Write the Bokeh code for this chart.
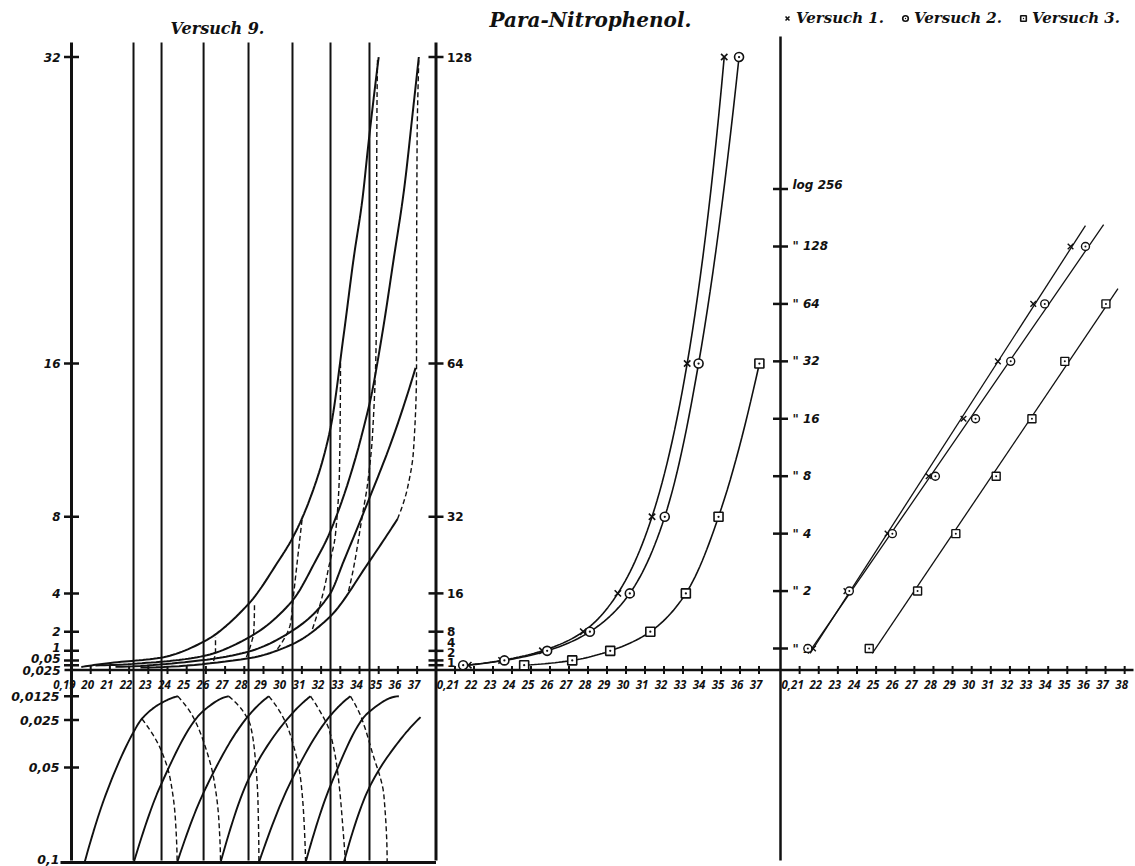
import math
from bokeh.plotting import figure
from bokeh.models import Range1d, LogScale, Legend, LegendItem, Label
from bokeh.core.properties import value
from bokeh.embed import file_html
from bokeh.resources import INLINE

# ======================= DATA =======================
# --- Versuch 9, upper panel (linear scale) : four solid growth curves
c1_x = [19.51, 21.03, 23.64, 25.89, 28.23, 29.78, 30.51, 31.45, 32.49, 33.18, 33.70, 34.14, 34.48, 35.0]
c1_y = [0.16, 0.37, 0.64, 1.48, 3.46, 5.69, 6.89, 9.02, 12.63, 17.52, 21.52, 24.48, 27.61, 32.0]
c2_x = [20.25, 23.64, 25.875, 28.22, 30.49, 31.71, 32.49, 34.52, 35.18, 35.79, 36.31, 36.80, 37.09]
c2_y = [0.24, 0.43, 0.73, 1.69, 3.60, 5.69, 7.26, 13.89, 17.52, 21.52, 25.0, 29.35, 32.0]
c3_x = [21.29, 25.875, 28.22, 30.49, 32.45, 33.18, 34.52, 35.77, 36.92]
c3_y = [0.17, 0.52, 0.96, 2.04, 3.95, 5.69, 8.98, 12.22, 15.77]
c4_x = [22.59, 28.22, 30.49, 32.45, 34.48, 35.98]
c4_y = [0.13, 0.61, 1.34, 2.77, 5.62, 7.88]
# dashed connecting lines of the upper panel
e1_x = [26.5, 26.5, 26.4];                         e1_y = [1.72, 0.99, 0.47]
e2_x = [28.53, 28.49, 28.41, 28.11];               e2_y = [3.45, 1.93, 1.57, 0.68]
e3_x = [31.03, 30.56, 30.41, 29.73];               e3_y = [8.04, 3.86, 2.45, 1.10]
e4_x = [33.01, 32.96, 32.75, 32.39, 32.13, 31.55]; e4_y = [16.13, 10.55, 7.10, 5.33, 4.12, 2.14]
e5_x = [34.94, 34.91, 34.89, 34.87, 34.68, 34.42, 34.16, 33.69, 33.43]
e5_y = [31.95, 29.34, 24.12, 17.54, 12.32, 9.71, 8.14, 5.32, 4.12]
e6_x = [37.09, 37.0, 36.97, 36.97, 36.81, 36.5, 35.98]
e6_y = [31.95, 27.6, 17.54, 15.77, 11.43, 9.5, 7.88]
# vertical lines of Versuch 9
lu_verticals = [22.23, 23.69, 25.88, 28.22, 30.51, 32.49, 34.52]

# --- Versuch 9, lower panel (0,0125 .. 0,1, downward)
a1_x = [19.68, 20.77, 22.245, 22.68, 23.635, 24.54]; a1_y = [0.1, 0.0647, 0.0311, 0.0242, 0.0163, 0.0125]
a2_x = [22.24, 23.64, 25.89, 27.19];  a2_y = [0.1, 0.0595, 0.02, 0.0125]
a3_x = [24.5, 25.89, 28.23, 29.28];   a3_y = [0.1, 0.063, 0.0226, 0.0125]
a4_x = [26.76, 28.23, 30.49, 31.45];  a4_y = [0.1, 0.056, 0.0216, 0.0125]
a5_x = [28.76, 30.41, 32.49, 33.53];  a5_y = [0.1, 0.0577, 0.0226, 0.0125]
a6_x = [31.19, 32.49, 34.48, 36.05];  a6_y = [0.1, 0.0595, 0.0209, 0.0125]
a7_x = [33.18, 34.48, 35.96, 37.18];  a7_y = [0.1, 0.0612, 0.0375, 0.0235]
da_x = [22.67, 23.71, 24.14, 24.41, 24.5];          da_y = [0.0244, 0.0419, 0.0559, 0.077, 0.1]
db_x = [24.54, 25.29, 25.89, 26.41, 26.67, 26.76];  db_y = [0.0125, 0.0226, 0.0367, 0.0559, 0.077, 0.1]
dc_x = [27.19, 27.97, 28.32, 28.58, 28.71, 28.76];  dc_y = [0.0125, 0.0209, 0.0279, 0.0463, 0.0674, 0.1]
dd_x = [29.28, 30.06, 30.41, 30.93, 31.11, 31.19];  dd_y = [0.0125, 0.0244, 0.0332, 0.0558, 0.078, 0.1]
de_x = [31.45, 31.97, 32.4, 32.84, 33.18, 33.27];   de_y = [0.0125, 0.0209, 0.0296, 0.0507, 0.0875, 0.1]
df_x = [33.53, 34.05, 34.66, 35.27, 35.44];         df_y = [0.0125, 0.0226, 0.0419, 0.0647, 0.1]

# --- Para-Nitrophenol
conc_12 = [1, 2, 4, 8, 16, 32, 64, 128]
conc_3 = [1, 2, 4, 8, 16, 32, 64]
v1_x = [21.7, 23.45, 25.6, 27.75, 29.57, 31.37, 33.22, 35.17]
v2_x = [21.43, 23.6, 25.85, 28.1, 30.2, 32.04, 33.82, 35.95]
v3_x = [24.64, 27.17, 29.17, 31.28, 33.15, 34.87, 37.02]
series_names = ["Versuch 1.", "Versuch 2.", "Versuch 3."]
r_line_from = [21.55, 21.45, 24.8]
r_line_to = [35.95, 36.9, 37.65]

# --- ticks and tick labels
lu_yticks = [32, 16, 8, 4, 2, 1, 0.5, 0.25]
lu_ylabels = ["32", "16", "8", "4", "2", "1", "0,05", "0,025"]
ll_yticks = [0.0125, 0.025, 0.05, 0.1]
ll_ylabels = ["0,0125", "0,025", "0,05", "0,1"]
m_yticks = [128, 64, 32, 16, 8, 4, 2, 1]
m_ylabels = ["128", "64", "32", "16", "8", "4", "2", "1"]
r_yticks = [256, 128, 64, 32, 16, 8, 4, 2, 1]
r_ylabels = ["log 256", '" 128', '" 64', '" 32', '" 16', '" 8', '" 4', '" 2', '" 1']
lu_xticks = list(range(19, 38))
lu_xlabels = ["0,19"] + [str(v) for v in range(20, 38)]
m_xticks = list(range(21, 38))
m_xlabels = ["0,21"] + [str(v) for v in range(22, 38)]
r_xticks = list(range(21, 39))
r_xlabels = ["0,21"] + [str(v) for v in range(22, 39)]

# ======================= LAYOUT =======================
W, H = 1135, 866
# scale definitions: (value, pixel, pixels per unit)
LU_X = (19, 71.0, 19.2)
M_X = (20, 435.5, 19.0)
R_X = (20, 780.0, 19.12)
LU_Y = (0, 669.5, -19.156)
LL_Y = (0, 672.0, 1900.0)
M_Y = (0, 669.5, -4.789)
R_Y2 = (0, 648.0, -57.43)   # in log2 units


def at(s, px):
    v0, p0, k = s
    return v0 + (px - p0) / k


def rng(s, a, b):
    return Range1d(start=at(s, a), end=at(s, b))


def pchip(xs, ys, n=14):
    """monotone cubic interpolation of y(x), xs increasing"""
    m = len(xs)
    h = [xs[i + 1] - xs[i] for i in range(m - 1)]
    d = [(ys[i + 1] - ys[i]) / h[i] for i in range(m - 1)]
    if m == 2:
        s = [d[0], d[0]]
    else:
        s = [0.0] * m
        for i in range(1, m - 1):
            if d[i - 1] * d[i] <= 0:
                s[i] = 0.0
            else:
                w1 = 2 * h[i] + h[i - 1]
                w2 = h[i] + 2 * h[i - 1]
                s[i] = (w1 + w2) / (w1 / d[i - 1] + w2 / d[i])

        def end(h0, h1, d0, d1):
            t = ((2 * h0 + h1) * d0 - h0 * d1) / (h0 + h1)
            if t * d0 <= 0:
                return 0.0
            if d0 * d1 <= 0 and abs(t) > abs(3 * d0):
                return 3 * d0
            return t
        s[0] = end(h[0], h[1], d[0], d[1])
        s[-1] = end(h[-1], h[-2], d[-1], d[-2])
    ox, oy = [], []
    for i in range(m - 1):
        for j in range(n):
            t = j / n
            h00 = 2 * t ** 3 - 3 * t ** 2 + 1
            h10 = t ** 3 - 2 * t ** 2 + t
            h01 = -2 * t ** 3 + 3 * t ** 2
            h11 = t ** 3 - t ** 2
            ox.append(xs[i] + t * h[i])
            oy.append(h00 * ys[i] + h10 * h[i] * s[i] + h01 * ys[i + 1] + h11 * h[i] * s[i + 1])
    ox.append(xs[-1])
    oy.append(ys[-1])
    return ox, oy


def pchip_xy(xs, ys):
    """curve that is steep: interpolate x as a function of y"""
    pairs = sorted(zip(ys, xs))
    qy, qx = pchip([a for a, _ in pairs], [b for _, b in pairs])
    return qx, qy


INK = "#111111"
NUM_FONT = value("DejaVu Sans")
XL_FONT = value("Open Sans")

p = figure(width=W, height=H, output_backend="svg", toolbar_location=None,
           x_range=rng(LU_X, 0, W), y_range=rng(LU_Y, H, 0),
           x_axis_location=None, y_axis_location=None, min_border=0,
           background_fill_color="white", border_fill_color="white")
p.outline_line_color = None
p.grid.visible = False
p.extra_x_ranges = {"mid": rng(M_X, 0, W), "right": rng(R_X, 0, W)}
p.extra_y_ranges = {"low": rng(LL_Y, H, 0), "mid": rng(M_Y, H, 0),
                    "log": Range1d(start=2 ** at(R_Y2, H), end=2 ** at(R_Y2, 0))}
p.extra_y_scales = {"log": LogScale()}

# ---------------- axes lines ----------------
TOP, BOT = 42, 860
p.line([19, 19], [at(LU_Y, TOP), at(LU_Y, BOT)], line_width=3, color=INK)
p.line([20, 20], [at(M_Y, TOP), at(M_Y, BOT)], x_range_name="mid", y_range_name="mid", line_width=3, color=INK)
p.line([20, 20], [2 ** at(R_Y2, 36), 2 ** at(R_Y2, BOT)], x_range_name="right", y_range_name="log",
       line_width=2.5, color=INK)
p.line([at(LU_X, 64), at(LU_X, 1133)], [0, 0], line_width=2.5, color=INK)
p.line([at(LU_X, 60), at(LU_X, 435.5)], [ll_yticks[-1], ll_yticks[-1]], y_range_name="low", line_width=3, color=INK)
p.segment(x0=lu_verticals, y0=[at(LU_Y, TOP)] * len(lu_verticals), x1=lu_verticals,
          y1=[at(LU_Y, BOT)] * len(lu_verticals), line_width=2, color=INK)

# ---------------- y ticks & labels ----------------
lbl = dict(text_font=NUM_FONT, text_font_style="bold italic", text_baseline="middle", text_color=INK)
p.scatter([19] * len(lu_yticks), lu_yticks, marker="dash", size=15, line_width=2.5, line_color=INK)
p.text([19] * len(lu_yticks), lu_yticks, text=lu_ylabels, x_offset=-11,
       y_offset=[0, 0, 0, 0, 0, -3, -2, 5], text_align="right", text_font_size="12px", **lbl)
p.scatter([19] * len(ll_yticks), ll_yticks, y_range_name="low", marker="dash", size=15, line_width=2.5, line_color=INK)
p.text([19] * len(ll_yticks), ll_yticks, y_range_name="low", text=ll_ylabels, x_offset=-12,
       y_offset=[0, 0, 0, -3], text_align="right", text_font_size="12.5px", **lbl)
p.scatter([20] * len(m_yticks), m_yticks, x_range_name="mid", y_range_name="mid", marker="dash",
          size=15, line_width=2.5, line_color=INK)
p.text([20] * len(m_yticks), m_yticks, x_range_name="mid", y_range_name="mid", text=m_ylabels,
       x_offset=11, y_offset=[0, 0, 0, 0, 0, -8, -8, -3], text_align="left",
       text_font_size="12px", text_font=NUM_FONT, text_font_style="bold", text_baseline="middle", text_color=INK)
p.scatter([20] * len(r_yticks), r_yticks, x_range_name="right", y_range_name="log", marker="dash",
          size=15, line_width=2.5, line_color=INK)
p.text([20] * len(r_yticks), r_yticks, x_range_name="right", y_range_name="log", text=r_ylabels,
       x_offset=12, y_offset=[-4, 0, 0, 0, 0, 0, 0, 0, 0], text_align="left", text_font_size="12px", **lbl)

# ---------------- x ticks & labels ----------------
xl = dict(text_font=XL_FONT, text_font_style="bold italic", text_baseline="middle",
          text_align="center", text_font_size="11.5px", text_color=INK)
for ticks, labels, rname in ((lu_xticks, lu_xlabels, "default"), (m_xticks, m_xlabels, "mid"),
                             (r_xticks, r_xlabels, "right")):
    p.scatter(ticks, [0] * len(ticks), x_range_name=rname, marker="dash", angle=math.pi / 2,
              size=8, line_width=2, line_color=INK)
    offs = [-7] + [-3] * (len(ticks) - 1)
    p.text(ticks, [0] * len(ticks), x_range_name=rname, text=labels, x_offset=offs, y_offset=14, **xl)

# ---------------- Versuch 9 upper curves ----------------
for xs, ys in ((c1_x, c1_y), (c2_x, c2_y), (c3_x, c3_y), (c4_x, c4_y)):
    qx, qy = pchip(xs, ys)
    p.line(qx, qy, line_width=2, color=INK)
for xs, ys in ((e1_x, e1_y), (e2_x, e2_y), (e3_x, e3_y), (e4_x, e4_y), (e5_x, e5_y), (e6_x, e6_y)):
    qx, qy = pchip_xy(xs, ys)
    p.line(qx, qy, line_width=1.4, line_dash="5 3", color=INK)

# ---------------- Versuch 9 lower arcs ----------------
for xs, ys in ((a1_x, a1_y), (a2_x, a2_y), (a3_x, a3_y), (a4_x, a4_y), (a5_x, a5_y), (a6_x, a6_y), (a7_x, a7_y)):
    qx, qy = pchip(xs, ys)
    p.line(qx, qy, y_range_name="low", line_width=1.9, color=INK)
for xs, ys in ((da_x, da_y), (db_x, db_y), (dc_x, dc_y), (dd_x, dd_y), (de_x, de_y), (df_x, df_y)):
    qx, qy = pchip_xy(xs, ys)
    p.line(qx, qy, y_range_name="low", line_width=1.4, line_dash="5 3", color=INK)

# ---------------- Para-Nitrophenol: middle (linear) and right (log) ----------------
markers = ["x", "circle_dot", "square_dot"]
legend_items = []
for name, xs, ys, mk, x_from, x_to in zip(series_names, (v1_x, v2_x, v3_x), (conc_12, conc_12, conc_3),
                                          markers, r_line_from, r_line_to):
    lx, ly = pchip(xs, [math.log2(v) for v in ys])
    p.line(lx, [2 ** v for v in ly], x_range_name="mid", y_range_name="mid", line_width=1.6, color=INK)
    rm = p.scatter(xs, ys, x_range_name="mid", y_range_name="mid", marker=mk, size=9,
                   line_color=INK, fill_color="white", line_width=1.6)
    legend_items.append(LegendItem(label=name, renderers=[rm]))
    # straight line in the logarithmic panel (least squares on log2)
    n = len(xs)
    ly2 = [math.log2(v) for v in ys]
    mx, my = sum(xs) / n, sum(ly2) / n
    b = sum((a - mx) * (c - my) for a, c in zip(xs, ly2)) / sum((a - mx) ** 2 for a in xs)
    a0 = my - b * mx
    p.line([x_from, x_to], [2 ** (a0 + b * x_from), 2 ** (a0 + b * x_to)], x_range_name="right",
           y_range_name="log", line_width=1.3, color=INK)
    p.scatter(xs, ys, x_range_name="right", y_range_name="log", marker=mk, size=8,
              line_color=INK, fill_color="white", line_width=1.4)

legend = Legend(items=legend_items, orientation="horizontal", location=(780, H - 29),
                label_text_font="DejaVu Serif", label_text_font_style="bold italic",
                label_text_font_size="15px", label_text_color=INK,
                glyph_width=14, glyph_height=22, label_standoff=2,
                spacing=14, padding=0, margin=0, border_line_color=None, background_fill_alpha=0)
p.add_layout(legend)

# ---------------- titles ----------------
p.add_layout(Label(x=217, y=H - 28, x_units="screen", y_units="screen", text="Versuch 9.",
                   text_align="center", text_baseline="middle", text_font="DejaVu Serif",
                   text_font_style="bold italic", text_font_size="16px", text_color=INK))
p.add_layout(Label(x=590, y=H - 19, x_units="screen", y_units="screen", text="Para-Nitrophenol.",
                   text_align="center", text_baseline="middle", text_font="DejaVu Serif",
                   text_font_style="bold italic", text_font_size="20px", text_color=INK))

open("out.html", "w").write(file_html(p, INLINE))
